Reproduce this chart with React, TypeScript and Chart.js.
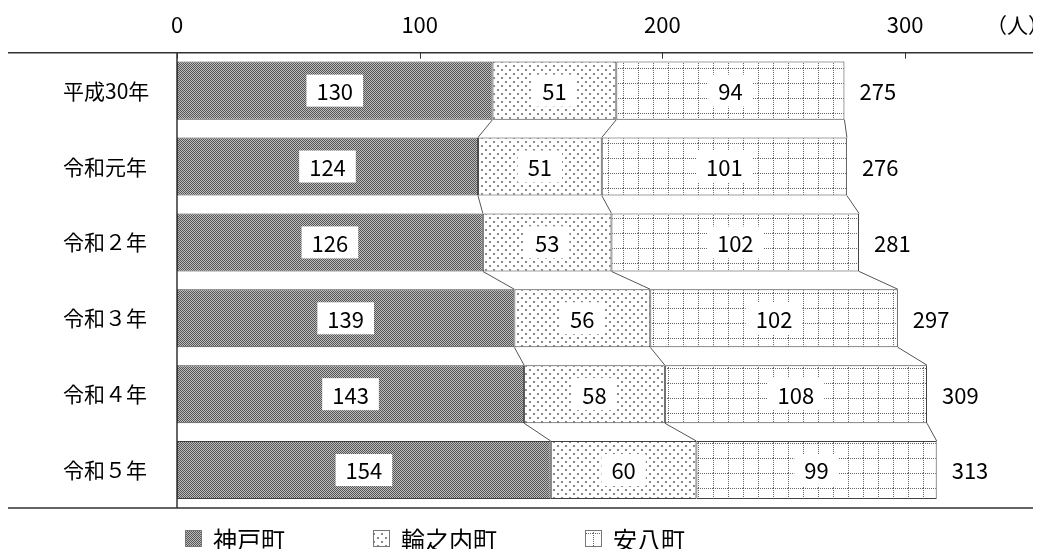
import React, { useEffect, useRef } from "react";
import { Chart, registerables } from "chart.js";

Chart.register(...registerables);

const categories = ["平成30年", "令和元年", "令和２年", "令和３年", "令和４年", "令和５年"];
const seriesNames = ["神戸町", "輪之内町", "安八町"];
const kobe = [130, 124, 126, 139, 143, 154];
const wanouchi = [51, 51, 53, 56, 58, 60];
const anpachi = [94, 101, 102, 102, 108, 99];
const xTicks = [0, 100, 200, 300];
const xMax = 350;
const unitLabel = "（人）";

const FONT = "'Noto Sans CJK JP', 'Noto Sans', sans-serif";

function makeCanvas(w: number, h: number) {
  const c = document.createElement("canvas");
  c.width = w;
  c.height = h;
  return c;
}

function ditherPattern(): CanvasPattern {
  const c = makeCanvas(2, 2);
  const g = c.getContext("2d")!;
  g.fillStyle = "#bcbcbc";
  g.fillRect(0, 0, 2, 2);
  g.fillStyle = "#565656";
  g.fillRect(0, 0, 1, 1);
  g.fillRect(1, 1, 1, 1);
  return g.createPattern(c, "repeat")!;
}

function dotPattern(): CanvasPattern {
  const c = makeCanvas(8, 8);
  const g = c.getContext("2d")!;
  g.fillStyle = "#ffffff";
  g.fillRect(0, 0, 8, 8);
  g.fillStyle = "#8a8a8a";
  g.fillRect(1, 1, 2, 2);
  g.fillRect(5, 5, 2, 2);
  return g.createPattern(c, "repeat")!;
}

function gridPattern(): CanvasPattern {
  const s = 15;
  const c = makeCanvas(s, s);
  const g = c.getContext("2d")!;
  g.fillStyle = "#ffffff";
  g.fillRect(0, 0, s, s);
  g.fillStyle = "#666666";
  for (let i = 0; i < s; i += 2) {
    g.fillRect(i, 0, 1, 1);
    g.fillRect(0, i, 1, 1);
  }
  return g.createPattern(c, "repeat")!;
}

const overlayPlugin = {
  id: "overlay",
  afterDatasetsDraw(chart: any) {
    const ctx: CanvasRenderingContext2D = chart.ctx;
    const n = chart.data.labels.length;
    const metas = chart.data.datasets.map((_: any, i: number) => chart.getDatasetMeta(i));
    ctx.save();
    // connector lines
    ctx.strokeStyle = "#555";
    ctx.lineWidth = 1;
    for (let i = 0; i < n - 1; i++) {
      metas.forEach((m: any) => {
        const a = m.data[i].getProps(["x", "y", "height"], true);
        const b = m.data[i + 1].getProps(["x", "y", "height"], true);
        ctx.beginPath();
        ctx.moveTo(a.x, a.y + a.height / 2);
        ctx.lineTo(b.x, b.y - b.height / 2);
        ctx.stroke();
      });
    }
    // value labels
    ctx.font = `22px ${FONT}`;
    ctx.textBaseline = "middle";
    ctx.textAlign = "center";
    metas.forEach((m: any, di: number) => {
      m.data.forEach((el: any, i: number) => {
        const p = el.getProps(["x", "y", "base"], true);
        const v = chart.data.datasets[di].data[i];
        const txt = String(v);
        const cx = (p.x + p.base) / 2;
        const w = ctx.measureText(txt).width + 20;
        ctx.fillStyle = "#fff";
        ctx.fillRect(cx - w / 2, p.y - 16, w, 32);
        ctx.fillStyle = "#000";
        ctx.fillText(txt, cx, p.y + 1);
      });
    });
    // totals
    ctx.textAlign = "left";
    const last = metas[metas.length - 1];
    last.data.forEach((el: any, i: number) => {
      const p = el.getProps(["x", "y"], true);
      let sum = 0;
      chart.data.datasets.forEach((d: any) => (sum += d.data[i]));
      ctx.fillStyle = "#000";
      ctx.fillText(String(sum), p.x + 15, p.y + 1);
    });
    ctx.restore();
  },
  afterDraw(chart: any) {
    const ctx: CanvasRenderingContext2D = chart.ctx;
    const { top, bottom, left } = chart.chartArea;
    const xs = chart.scales.x;
    ctx.save();
    ctx.strokeStyle = "#333";
    ctx.lineWidth = 1.5;
    ctx.beginPath();
    ctx.moveTo(0, top);
    ctx.lineTo(chart.width, top);
    ctx.moveTo(0, bottom);
    ctx.lineTo(chart.width, bottom);
    ctx.stroke();
    ctx.lineWidth = 1.5;
    ctx.beginPath();
    ctx.moveTo(left, top);
    ctx.lineTo(left, bottom);
    ctx.stroke();
    ctx.lineWidth = 1;
    xTicks.forEach((v) => {
      const x = Math.round(xs.getPixelForValue(v)) + 0.5;
      ctx.beginPath();
      ctx.moveTo(x, top);
      ctx.lineTo(x, top + 6);
      ctx.stroke();
    });
    // unit label
    ctx.fillStyle = "#000";
    ctx.font = `21px ${FONT}`;
    ctx.textAlign = "center";
    ctx.textBaseline = "middle";
    ctx.fillText(unitLabel, xs.getPixelForValue(xMax) - 9, 17);
    // legend
    ctx.font = `24px ${FONT}`;
    ctx.textAlign = "left";
    let x = 177;
    const ly = 530.5;
    chart.data.datasets.forEach((d: any) => {
      ctx.fillStyle = d.backgroundColor;
      ctx.fillRect(x, ly - 8.5, 17, 17);
      ctx.strokeStyle = "#777";
      ctx.lineWidth = 1;
      ctx.strokeRect(x + 0.5, ly - 8, 16, 16);
      ctx.fillStyle = "#000";
      ctx.fillText(d.label, x + 28, ly + 1);
      x += 28 + ctx.measureText(d.label).width + 88;
    });
    ctx.restore();
  },
};

export default function App() {
  const ref = useRef<HTMLCanvasElement>(null);
  useEffect(() => {
    if (!ref.current) return;
    const fills = [ditherPattern(), dotPattern(), gridPattern()];
    const values = [kobe, wanouchi, anpachi];
    const chart = new Chart(ref.current, {
      type: "bar",
      data: {
        labels: categories,
        datasets: values.map((vals, i) => ({
          label: seriesNames[i],
          data: vals,
          backgroundColor: fills[i] as any,
          borderColor: "#404040",
          borderWidth: 1,
          borderSkipped: false,
          categoryPercentage: 1,
          barPercentage: 0.765,
        })),
      },
      options: {
        indexAxis: "y",
        animation: false,
        responsive: true,
        maintainAspectRatio: false,
        events: [],
        layout: { padding: { left: 55, right: 6.5, top: 0, bottom: 41 } },
        plugins: { legend: { display: false }, tooltip: { enabled: false } },
        scales: {
          x: {
            stacked: true,
            position: "top",
            min: 0,
            max: xMax,
            grid: { display: false, drawTicks: false, tickLength: 0 },
            border: { display: false },
            afterBuildTicks: (s: any) => {
              s.ticks = xTicks.map((v) => ({ value: v }));
            },
            afterFit: (s: any) => {
              s.height = 44.7;
              s.paddingLeft = 0;
              s.paddingRight = 0;
            },
            ticks: {
              padding: 14.5,
              color: "#000",
              font: { family: FONT, size: 22 },
            },
          },
          y: {
            stacked: true,
            grid: { display: false, drawTicks: false, tickLength: 0 },
            border: { display: false },
            afterFit: (s: any) => {
              s.width = 114;
              s.paddingTop = 0;
              s.paddingBottom = 0;
            },
            ticks: {
              crossAlign: "far",
              color: "#000",
              font: { family: FONT, size: 21 },
            },
          },
        },
      },
      plugins: [overlayPlugin],
    });
    return () => chart.destroy();
  }, []);
  return (
    <div style={{ width: 1025, height: 541, position: "relative" }}>
      <canvas ref={ref} />
    </div>
  );
}
